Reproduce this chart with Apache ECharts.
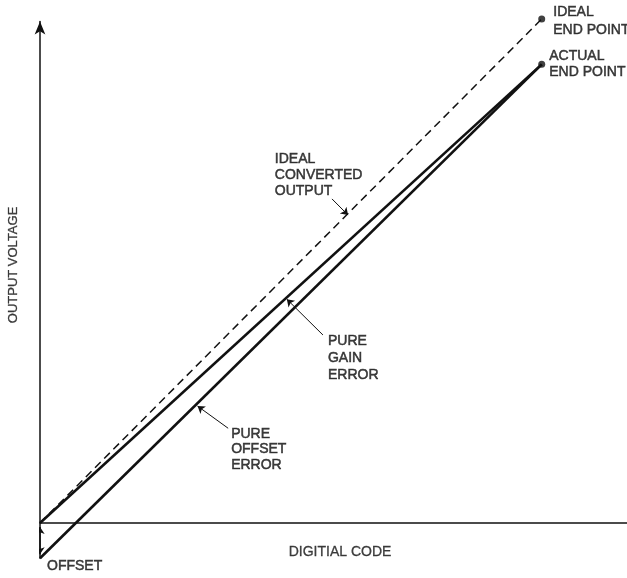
<!DOCTYPE html>
<html>
<head>
<meta charset="utf-8">
<script src="https://cdn.jsdelivr.net/npm/echarts@6/dist/echarts.min.js"></script>
<style>
  html, body { margin: 0; padding: 0; background: #fff; }
  #chart { width: 627px; height: 578px; }
</style>
</head>
<body>
<div id="chart"></div>
<script>
var myChart = echarts.init(document.getElementById('chart'));

// transfer lines, x = digital code (0..100 full scale), y = output voltage
var idealOutput = [[0, 0], [100, 100]];
var gainErrorOutput = [[0, 0], [100, 91]];
var offsetErrorOutput = [[0, -7], [100, 91]];
var endPoints = [[100, 100], [100, 91]];

// offset dimension arrow and the leader arrows
var offsetMarker = [[0, -0.8], [0, -6.2]];
var leaders = [
    [[58.2, 64.3], [61.4, 61.1]],   // ideal converted output
    [[56.4, 37.3], [49.2, 44.4]],   // pure gain error
    [[37.5, 18.8], [31.4, 23.2]]    // pure offset error
];

// text notes: x, y (top-left of text), text, line height
var notes = [
    [102.3, 103.2, 'IDEAL\nEND POINT', 18],
    [101.5, 94.2, 'ACTUAL\nEND POINT', 16],
    [46.8, 73.8, 'IDEAL\nCONVERTED\nOUTPUT', 16],
    [57.4, 37.7, 'PURE\nGAIN\nERROR', 17],
    [38.1, 19.2, 'PURE\nOFFSET\nERROR', 15.5],
    [1.4, -6.9, 'OFFSET', 16]
];
var axisTitles = [
    [59.8, -5.75, 'DIGITIAL CODE', 0],
    [-5.2, 51.2, 'OUTPUT VOLTAGE', 90]
];

var ink = '#111';

option = {
    animation: false,
    backgroundColor: '#fff',
    grid: {
        left: 40,
        right: 0,
        top: 21.5,
        bottom: 19.7
    },
    xAxis: {
        type: 'value',
        min: 0,
        max: 117,
        axisLine: { show: true, onZero: true, lineStyle: { color: ink, width: 1.5 } },
        axisTick: { show: false },
        axisLabel: { show: false },
        splitLine: { show: false }
    },
    yAxis: {
        type: 'value',
        min: -7,
        max: 99.5,
        axisLine: {
            show: true,
            onZero: true,
            symbol: ['none', 'arrow'],
            symbolSize: [8, 13],
            lineStyle: { color: ink, width: 1.5 }
        },
        axisTick: { show: false },
        axisLabel: { show: false },
        splitLine: { show: false }
    },
    series: [
        {
            name: 'ideal',
            type: 'line',
            data: idealOutput,
            symbol: 'none',
            clip: false,
            lineStyle: { color: ink, width: 1.5, type: [8, 5] }
        },
        {
            name: 'gain',
            type: 'line',
            data: gainErrorOutput,
            symbol: 'none',
            clip: false,
            lineStyle: { color: ink, width: 2.6 }
        },
        {
            name: 'offset',
            type: 'line',
            data: offsetErrorOutput,
            symbol: 'none',
            clip: false,
            lineStyle: { color: ink, width: 2.6 }
        },
        {
            name: 'ends',
            type: 'scatter',
            data: endPoints,
            symbolSize: 7,
            clip: false,
            itemStyle: { color: ink }
        },
        {
            name: 'arrows',
            type: 'lines',
            coordinateSystem: 'cartesian2d',
            symbol: ['none', 'arrow'],
            symbolSize: 7,
            lineStyle: { color: ink, width: 1, opacity: 1 },
            data: leaders.map(function (l) { return { coords: l }; })
        },
        {
            name: 'offsetDim',
            type: 'lines',
            coordinateSystem: 'cartesian2d',
            symbol: ['arrow', 'arrow'],
            symbolSize: 7,
            lineStyle: { color: ink, width: 1.5, opacity: 1 },
            data: [{ coords: offsetMarker }]
        },
        {
            name: 'notes',
            type: 'scatter',
            symbolSize: 0,
            clip: false,
            silent: true,
            data: notes.map(function (n) {
                return {
                    value: [n[0], n[1]],
                    name: n[2],
                    label: { lineHeight: n[3] }
                };
            }),
            label: {
                show: true,
                position: [0, 0],
                align: 'left',
                verticalAlign: 'top',
                formatter: '{b}',
                color: ink,
                fontFamily: 'Liberation Sans',
                fontSize: 14,
                textBorderColor: ink,
                textBorderWidth: 0.5
            }
        },
        {
            name: 'axisTitles',
            type: 'scatter',
            symbolSize: 0,
            clip: false,
            silent: true,
            data: axisTitles.map(function (t) {
                return {
                    value: [t[0], t[1]],
                    name: t[2],
                    label: { rotate: t[3], fontSize: t[3] ? 13 : 14 }
                };
            }),
            label: {
                show: true,
                position: 'inside',
                align: 'center',
                verticalAlign: 'middle',
                formatter: '{b}',
                color: ink,
                fontFamily: 'Liberation Sans',
                textBorderColor: ink,
                textBorderWidth: 0.3
            }
        }
    ]
};

myChart.setOption(option);
</script>
</body>
</html>
